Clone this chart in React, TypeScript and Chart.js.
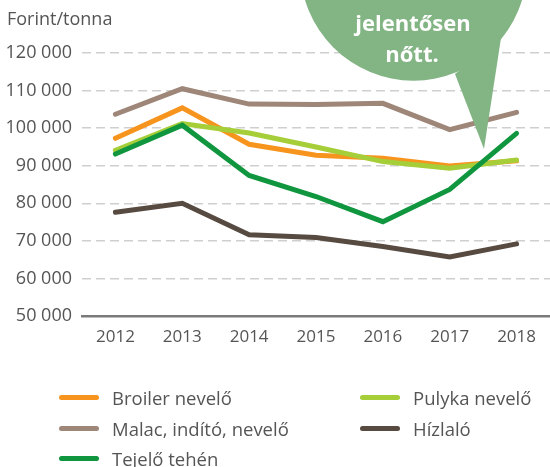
import React, { useEffect, useRef } from "react";
import { Chart, registerables } from "chart.js";

Chart.register(...registerables);

const years = ["2012", "2013", "2014", "2015", "2016", "2017", "2018"];
const broiler = [97300, 105400, 95700, 92800, 92000, 89900, 91300];
const pulyka = [94100, 101200, 98700, 95000, 91100, 89300, 91500];
const malac = [103700, 110500, 106400, 106300, 106600, 99600, 104200];
const hizlalo = [77600, 80000, 71600, 70900, 68500, 65700, 69200];
const tejelo = [93100, 100800, 87400, 81800, 75100, 83700, 98600];

const yTitle = "Forint/tonna";
const bubbleLines = ["jelentősen", "nőtt."];

const series = [
  { label: "Broiler nevelő", data: broiler, color: "#F7941D", order: 2 },
  { label: "Pulyka nevelő", data: pulyka, color: "#A6CE39", order: 1 },
  { label: "Malac, indító, nevelő", data: malac, color: "#9E8679", order: 3 },
  { label: "Hízlaló", data: hizlalo, color: "#574A41", order: 4 },
  { label: "Tejelő tehén", data: tejelo, color: "#10963F", order: 0 },
];

const FONT = "'Open Sans', 'Noto Sans', sans-serif";
const fmt = (v: number) => String(v).replace(/\B(?=(\d{3})+(?!\d))/g, " ");

const bubblePlugin = {
  id: "bubble",
  afterDraw(chart: any) {
    const ctx = chart.ctx;
    ctx.save();
    ctx.fillStyle = "#83B484";
    ctx.beginPath();
    ctx.arc(413.5, -32.6, 113.3, 0, Math.PI * 2);
    ctx.fill();
    ctx.beginPath();
    ctx.moveTo(455, 74);
    ctx.lineTo(484, 149);
    ctx.lineTo(501, 38);
    ctx.closePath();
    ctx.fill();
    ctx.fillStyle = "#ffffff";
    ctx.font = `bold 22px ${FONT}`;
    ctx.textAlign = "center";
    ctx.textBaseline = "alphabetic";
    ctx.fillText(bubbleLines[0], 413, 31);
    ctx.fillText(bubbleLines[1], 412, 62);
    ctx.restore();
  },
};

export default function App() {
  const ref = useRef<HTMLCanvasElement>(null);
  useEffect(() => {
    document.body.style.margin = "0";
    const chart = new Chart(ref.current!, {
      type: "line",
      data: {
        labels: years,
        datasets: series.map((s) => ({
          label: s.label,
          data: s.data,
          borderColor: s.color,
          backgroundColor: s.color,
          borderWidth: 5,
          pointRadius: 0,
          tension: 0,
          order: s.order,
          borderCapStyle: "round" as const,
          borderJoinStyle: "miter" as const,
        })),
      },
      options: {
        animation: false,
        responsive: false,
        layout: { padding: { top: 53, right: 0, bottom: 0, left: 0 } },
        plugins: { legend: { display: false }, tooltip: { enabled: false }, title: { display: false } },
        scales: {
          x: {
            offset: true,
            grid: { display: false, drawTicks: false },
            border: { display: true, color: "#7a7a7a", width: 2.5 },
            ticks: { color: "#555", font: { family: FONT, size: 17 }, padding: 11, maxRotation: 0 },
            afterFit: (s: any) => { s.height = 151; },
          },
          y: {
            min: 50000,
            max: 120000,
            grid: { color: "#cfcfcf", lineWidth: 1.5, drawTicks: false },
            border: { display: false, dash: [9, 5] },
            ticks: {
              stepSize: 10000,
              color: "#555",
              font: { family: FONT, size: 18 },
              padding: 10,
              callback: (v: any) => fmt(Number(v)),
            },
            afterFit: (s: any) => { s.width = 82; },
          },
        },
      },
      plugins: [bubblePlugin],
    });
    return () => chart.destroy();
  }, []);

  const rows = [397, 428, 458];
  const pos = [
    { left: 59, top: rows[0] },
    { left: 360, top: rows[0] },
    { left: 59, top: rows[1] },
    { left: 360, top: rows[1] },
    { left: 59, top: rows[2] },
  ];

  return (
    <div style={{ position: "relative", width: 550, height: 467, overflow: "hidden", fontFamily: FONT }}>
      <canvas ref={ref} width={550} height={467} style={{ display: "block" }} />
      <div style={{ position: "absolute", left: 7, top: 7, fontSize: 18, lineHeight: "22px", color: "#555" }}>{yTitle}</div>
      {series.map((s, i) => (
        <div
          key={s.label}
          style={{
            position: "absolute",
            left: pos[i].left,
            top: pos[i].top - 13,
            height: 26,
            display: "flex",
            alignItems: "center",
            fontSize: 18.5,
            color: "#555",
            whiteSpace: "nowrap",
          }}
        >
          <span style={{ display: "inline-block", width: 40, height: 5, borderRadius: 3, background: s.color, marginRight: 13 }} />
          <span>{s.label}</span>
        </div>
      ))}
    </div>
  );
}
